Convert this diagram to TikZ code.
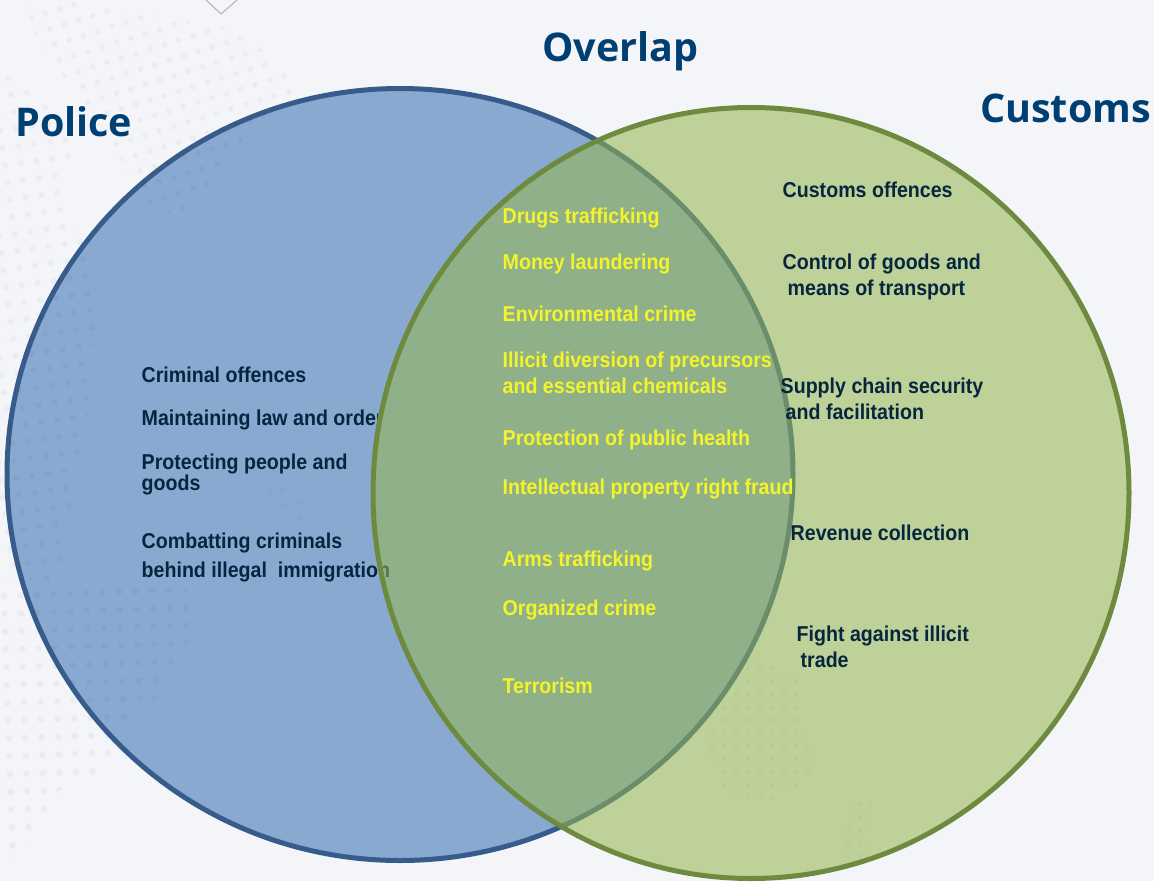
\documentclass[tikz,border=0pt]{standalone}
\usetikzlibrary{shapes.geometric}
\usepackage{fontspec}
\setmainfont{Open Sans}
\newfontfamily\bodyf[FakeStretch=0.912]{Liberation Sans}
\newcommand{\dotfield}[7]{\begin{scope}\clip #1; \begin{scope}[shift={#2},rotate=#3] \foreach \i in {-#6,...,#6}{\foreach \j in {-#7,...,#7}{\fill[black,fill opacity=#4] (\i*#5,\j*#5*1.08) circle[radius=.2*#5 pt];}} \end{scope}\end{scope}}
\begin{document}
\begin{tikzpicture}[x=1pt,y=-1pt,
 hd/.style={font=\fontsize{39.5}{40}\selectfont\bfseries,text=headblue,anchor=base west,inner sep=0},
 dk/.style={font=\bodyf\fontsize{21.5}{19}\selectfont\bfseries,text=darknavy,anchor=base west,inner sep=0,align=left},
 yl/.style={font=\bodyf\fontsize{21.5}{19}\selectfont\bfseries,text=yellowt,anchor=base west,inner sep=0,align=left}]
\definecolor{headblue}{HTML}{003F72}
\definecolor{darknavy}{HTML}{06263F}
\definecolor{yellowt}{HTML}{F4F42A}
\definecolor{bgc}{HTML}{F3F5F8}
\definecolor{bluef}{HTML}{8AA9D1}
\definecolor{blued}{HTML}{375C8C}
\definecolor{greenf}{HTML}{93B650}
\definecolor{greend}{HTML}{6E8A3E}
\useasboundingbox (0,0) rectangle (1154,881);
\fill[bgc] (0,0) rectangle (1154,881);
\draw[gray!60,line width=1pt] (206,0) -- (221,14) -- (237,0);
\node[ellipse,minimum width=786pt,minimum height=772pt,inner sep=0,fill=bluef,draw=blued,line width=5pt] (police) at (400,474.5) {};
\node[dk] (a1) at (141.5,382) {Criminal offences};
\node[dk] (a2) at (141.5,425) {Maintaining law and order};
\node[dk] (a3) at (141.5,469) {Protecting people and};
\node[dk] (a3b) at (141.5,490) {goods};
\node[dk] (a4) at (141.5,548) {Combatting criminals};
\node[dk] (a5) at (141.5,577) {behind illegal\ \ immigration};
\node[ellipse,minimum width=756pt,minimum height=771pt,inner sep=0,fill=greenf,fill opacity=.56,draw=greend,draw opacity=1,line width=5pt] (customs) at (751,493) {};
\dotfield{(25,5)--(65,0)--(240,30)--(300,85)--(250,130)--(190,210)--(150,215)--(110,140)--(40,45)--cycle}{(150,100)}{17}{.03}{15}{14}{12}
\dotfield{(0,75)--(30,80)--(75,150)--(55,180)--(100,280)--(90,400)--(60,580)--(0,580)--cycle}{(40,300)}{8}{.03}{16}{8}{18}
\dotfield{(0,580)--(190,590)--(190,640)--(155,700)--(125,725)--(105,770)--(60,790)--(35,830)--(15,860)--(0,860)--cycle}{(90,700)}{2}{.035}{16.5}{8}{11}
\dotfield{(755,655)--(800,680)--(812,780)--(790,790)--(770,800)--(720,795)--(708,740)--(725,700)--cycle}{(760,720)}{0}{.018}{12}{6}{7}
\dotfield{(850,795)--(872,800)--(870,860)--(845,860)--cycle}{(860,830)}{0}{.018}{12}{2}{4}
\dotfield{(265,480)--(305,490)--(305,530)--(275,520)--cycle}{(285,505)}{8}{.02}{14}{2}{3}
\node[hd] (t1) at (15,136) {Police};
\node[hd] (t2) at (542,61) {Overlap};
\node[hd] (t3) at (980,122.5) {Customs};
\node[yl] (y1) at (502.5,223) {Drugs trafficking};
\node[yl] (y2) at (502.5,269) {Money laundering};
\node[yl] (y3) at (502.5,321) {Environmental crime};
\node[yl] (y4) at (502.5,367) {Illicit diversion of precursors};
\node[yl] (y4b) at (502.5,393) {and essential chemicals};
\node[yl] (y5) at (502.5,445) {Protection of public health};
\node[yl] (y6) at (502.5,494) {Intellectual property right fraud};
\node[yl] (y7) at (502.5,566) {Arms trafficking};
\node[yl] (y8) at (502.5,615) {Organized crime};
\node[yl] (y9) at (502.5,693) {Terrorism};
\node[dk] (c1) at (782.5,197) {Customs offences};
\node[dk] (c2) at (782.5,269) {Control of goods and};
\node[dk] (c2b) at (787.5,295) {means of transport};
\node[dk] (c3) at (780.5,393) {Supply chain security};
\node[dk] (c3b) at (785.5,419) {and facilitation};
\node[dk] (c4) at (790.5,540) {Revenue collection};
\node[dk] (c5) at (796.5,641) {Fight against illicit};
\node[dk] (c5b) at (800.5,667) {trade};
\end{tikzpicture}
\end{document}
